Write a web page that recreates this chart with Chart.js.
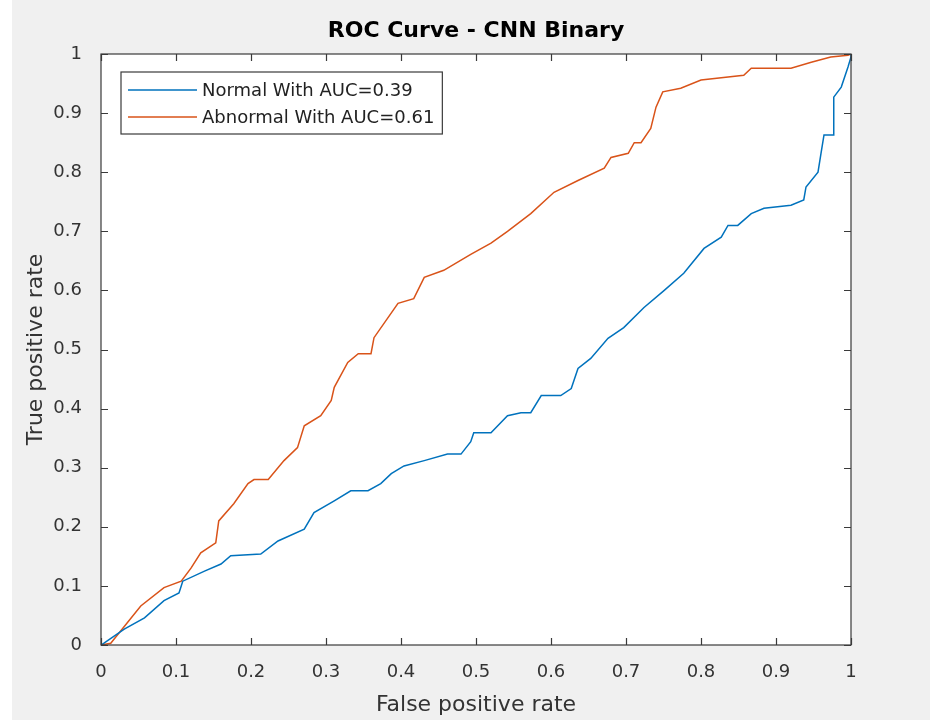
<!DOCTYPE html>
<html>
<head>
<meta charset="utf-8">
<script src="https://cdn.jsdelivr.net/npm/chart.js@4/dist/chart.umd.min.js"></script>
<style>
  html, body { margin: 0; padding: 0; background: #fff; }
  #wrap { width: 930px; height: 723px; }
</style>
</head>
<body>
<div id="wrap"><canvas id="roc"></canvas></div>
<script>
// ─── DATA ───
const normalFpr = [0, 0.004, 0.031, 0.058, 0.084, 0.104, 0.109, 0.138, 0.16, 0.173, 0.213, 0.236, 0.271, 0.284,
  0.311, 0.333, 0.356, 0.373, 0.387, 0.404, 0.431, 0.462, 0.48, 0.493, 0.497, 0.52, 0.542, 0.56, 0.573, 0.587,
  0.613, 0.627, 0.636, 0.653, 0.676, 0.697, 0.724, 0.751, 0.777, 0.804, 0.827, 0.836, 0.849, 0.867, 0.884, 0.92,
  0.937, 0.94, 0.956, 0.96, 0.964, 0.976, 0.977, 0.987, 0.996, 1, 1];
const normalTpr = [0, 0.003, 0.027, 0.046, 0.075, 0.088, 0.108, 0.125, 0.137, 0.151, 0.154, 0.176, 0.196, 0.224,
  0.244, 0.261, 0.261, 0.273, 0.29, 0.303, 0.312, 0.323, 0.323, 0.344, 0.359, 0.359, 0.388, 0.393, 0.393, 0.422,
  0.422, 0.434, 0.468, 0.485, 0.519, 0.537, 0.571, 0.6, 0.629, 0.671, 0.69, 0.71, 0.71, 0.73, 0.739, 0.744,
  0.753, 0.775, 0.8, 0.832, 0.863, 0.863, 0.927, 0.944, 0.978, 0.995, 1];

const abnormalFpr = [0, 0.013, 0.053, 0.084, 0.107, 0.12, 0.133, 0.153, 0.157, 0.177, 0.196, 0.204, 0.223, 0.244,
  0.262, 0.271, 0.293, 0.307, 0.311, 0.329, 0.343, 0.36, 0.364, 0.396, 0.417, 0.431, 0.457, 0.493, 0.52, 0.542,
  0.573, 0.604, 0.636, 0.671, 0.68, 0.703, 0.711, 0.72, 0.733, 0.74, 0.749, 0.773, 0.8, 0.857, 0.867, 0.92,
  0.947, 0.973, 0.996, 1];
const abnormalTpr = [0, 0.003, 0.066, 0.097, 0.108, 0.13, 0.156, 0.173, 0.21, 0.239, 0.273, 0.28, 0.28, 0.312,
  0.334, 0.371, 0.388, 0.414, 0.436, 0.478, 0.493, 0.493, 0.52, 0.578, 0.586, 0.622, 0.634, 0.661, 0.68, 0.7,
  0.73, 0.766, 0.786, 0.807, 0.825, 0.832, 0.85, 0.85, 0.874, 0.91, 0.936, 0.942, 0.956, 0.964, 0.976, 0.976,
  0.986, 0.995, 0.998, 1];

const seriesLabels = ['Normal With AUC=0.39', 'Abnormal With AUC=0.61'];
const seriesColors = ['#0072BD', '#D95319'];

const toPoints = (xs, ys) => xs.map((x, i) => ({ x, y: ys[i] }));

// ─── STYLE ───
const FONT = "'DejaVu Sans', sans-serif";
const AXIS_COLOR = '#3a3a3a';
const TEXT_COLOR = '#333';
const FIG_BG = '#f0f0f0';

// figure background + white axes, MATLAB-like
const bgPlugin = {
  id: 'figBg',
  beforeDraw(chart) {
    const { ctx, chartArea: a } = chart;
    ctx.save();
    ctx.fillStyle = '#fff';
    ctx.fillRect(0, 0, chart.width, chart.height);
    ctx.fillStyle = FIG_BG;
    ctx.fillRect(12, 0, chart.width - 12, chart.height - 3);
    ctx.fillStyle = '#fff';
    ctx.fillRect(a.left, a.top, a.right - a.left, a.bottom - a.top);
    ctx.restore();
  },
};

// box frame, inward ticks on all sides, legend inside the axes
const boxPlugin = {
  id: 'boxFrame',
  afterDraw(chart) {
    const { ctx, chartArea: a, scales } = chart;
    const TL = 7;
    ctx.save();
    ctx.strokeStyle = AXIS_COLOR;
    ctx.lineWidth = 1.2;
    ctx.strokeRect(a.left, a.top, a.right - a.left, a.bottom - a.top);
    ctx.beginPath();
    scales.x.ticks.forEach(t => {
      const px = Math.round(scales.x.getPixelForValue(t.value)) + 0.5;
      ctx.moveTo(px, a.bottom); ctx.lineTo(px, a.bottom - TL);
      ctx.moveTo(px, a.top); ctx.lineTo(px, a.top + TL);
    });
    scales.y.ticks.forEach(t => {
      const py = Math.round(scales.y.getPixelForValue(t.value)) + 0.5;
      ctx.moveTo(a.left, py); ctx.lineTo(a.left + TL, py);
      ctx.moveTo(a.right, py); ctx.lineTo(a.right - TL, py);
    });
    ctx.stroke();

    // legend
    const ds = chart.data.datasets;
    ctx.font = `18px ${FONT}`;
    const textW = Math.max(...ds.map(d => ctx.measureText(d.label).width));
    const bx = a.left + 20, by = a.top + 18;
    const lineLen = 69, rowH = 27;
    const bw = 7 + lineLen + 5 + textW + 8, bh = 62;
    ctx.fillStyle = '#fff';
    ctx.fillRect(bx, by, bw, bh);
    ctx.strokeStyle = AXIS_COLOR;
    ctx.lineWidth = 1.2;
    ctx.strokeRect(bx, by, bw, bh);
    ds.forEach((d, i) => {
      const cy = by + 18 + i * rowH;
      ctx.strokeStyle = d.borderColor;
      ctx.lineWidth = 1.5;
      ctx.beginPath();
      ctx.moveTo(bx + 7, cy); ctx.lineTo(bx + 7 + lineLen, cy);
      ctx.stroke();
      ctx.fillStyle = '#222';
      ctx.textBaseline = 'middle';
      ctx.textAlign = 'left';
      ctx.fillText(d.label, bx + 7 + lineLen + 5, cy + 1);
    });
    ctx.restore();
  },
};

const tickFmt = v => String(Math.round(v * 10) / 10);

new Chart(document.getElementById('roc'), {
  type: 'line',
  data: {
    datasets: [
      { label: seriesLabels[0], data: toPoints(normalFpr, normalTpr), borderColor: seriesColors[0] },
      { label: seriesLabels[1], data: toPoints(abnormalFpr, abnormalTpr), borderColor: seriesColors[1] },
    ].map(d => ({ ...d, borderWidth: 1.5, pointRadius: 0, tension: 0, fill: false })),
  },
  options: {
    responsive: true, maintainAspectRatio: false, animation: false,
    layout: { padding: { left: 22, right: 0, top: 0, bottom: 0 } },
    plugins: {
      legend: { display: false },
      tooltip: { enabled: false },
      title: {
        display: true, text: 'ROC Curve - CNN Binary', color: '#000',
        font: { family: FONT, size: 22, weight: 'bold' },
        padding: { top: 18, bottom: 9.6 },
      },
    },
    scales: {
      x: {
        type: 'linear', min: 0, max: 1,
        grid: { display: false }, border: { display: false },
        ticks: { stepSize: 0.1, color: TEXT_COLOR, padding: 9, maxRotation: 0,
          font: { family: FONT, size: 18 }, callback: tickFmt },
        title: { display: true, text: 'False positive rate', color: TEXT_COLOR,
          font: { family: FONT, size: 22 }, padding: { top: 0, bottom: 5 } },
        afterFit: s => { s.height = 78; },
      },
      y: {
        type: 'linear', min: 0, max: 1,
        grid: { display: false }, border: { display: false },
        ticks: { stepSize: 0.1, color: TEXT_COLOR, padding: 11,
          font: { family: FONT, size: 18 }, callback: tickFmt },
        title: { display: true, text: 'True positive rate', color: TEXT_COLOR,
          font: { family: FONT, size: 22 }, padding: { top: 1, bottom: 0 } },
        afterFit: s => { s.width = 79; },
      },
      // empty right-hand axis: keeps the figure margin so the title centres over the axes
      yRight: {
        type: 'linear', position: 'right', min: 0, max: 1,
        grid: { display: false }, border: { display: false },
        ticks: { display: false },
        afterFit: s => { s.width = 79; },
      },
    },
  },
  plugins: [bgPlugin, boxPlugin],
});
</script>
</body>
</html>
